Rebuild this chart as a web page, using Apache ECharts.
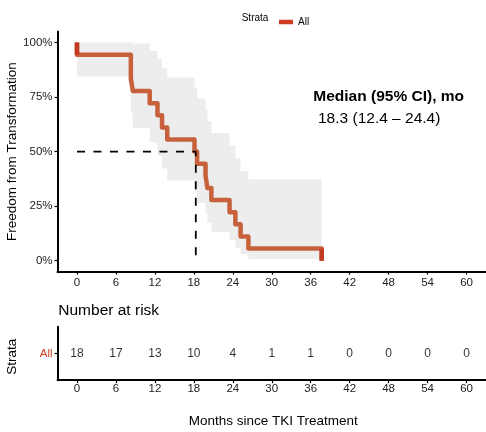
<!DOCTYPE html>
<html><head><meta charset="utf-8">
<script src="https://cdn.jsdelivr.net/npm/echarts@6/dist/echarts.min.js"></script>
<style>html,body{margin:0;padding:0;background:#fff}#c{width:486px;height:432px}</style>
</head><body><div id="c"></div>
<script>
// Kaplan-Meier step data
const eventTimes = [0, 8.3, 8.6, 11.2, 12.4, 13.1, 13.9, 18.1, 18.5, 19.8, 20.1, 20.7, 23.5, 24.4, 25.2, 26.4, 37.7];
const survival   = [0.944, 0.833, 0.778, 0.722, 0.667, 0.611, 0.556, 0.500, 0.444, 0.389, 0.333, 0.278, 0.222, 0.167, 0.111, 0.056, 0.000];
const ciUpper    = [1.000, 1.000, 0.996, 0.962, 0.924, 0.884, 0.840, 0.794, 0.745, 0.694, 0.640, 0.585, 0.528, 0.468, 0.411, 0.373];
const ciLower    = [0.844, 0.678, 0.608, 0.542, 0.481, 0.423, 0.368, 0.315, 0.265, 0.218, 0.174, 0.132, 0.094, 0.059, 0.030, 0.008];
const medianTime = 18.3;
const medianSurv = 0.5;
const xTicks = [0, 6, 12, 18, 24, 30, 36, 42, 48, 54, 60];
const yTicks = [0, 0.25, 0.5, 0.75, 1];
const yTickLabels = ['0%', '25%', '50%', '75%', '100%'];
const strata = ['All'];
const riskTimes  = [0, 6, 12, 18, 24, 30, 36, 42, 48, 54, 60];
const riskCounts = [18, 17, 13, 10, 4, 1, 1, 0, 0, 0, 0];

const FONT = "'Liberation Sans', Arial, Helvetica, sans-serif";
const CURVE = '#C6613C';
const RED = '#CF3A20';
const DARK = '#C23A22';
const LABEL = '#222';

const kmData = [[0, 1]].concat(eventTimes.map((t, i) => [t, survival[i]]));
const bandPts = [];
for (let i = 0; i < ciUpper.length; i++) {
  bandPts.push([eventTimes[i], ciUpper[i]], [eventTimes[i + 1], ciUpper[i]]);
}
for (let i = ciLower.length - 1; i >= 0; i--) {
  bandPts.push([eventTimes[i + 1], ciLower[i]], [eventTimes[i], ciLower[i]]);
}
const n = eventTimes.length;
const endsData = [
  [eventTimes[0], 1], [eventTimes[0], survival[0]], null,
  [eventTimes[n - 1], survival[n - 2]], [eventTimes[n - 1], survival[n - 1]]
];

const axisLineStyle = { show: true, onZero: false, lineStyle: { color: '#000', width: 2 } };
const chart = echarts.init(document.getElementById('c'), null, { renderer: 'canvas' });
chart.setOption({
  animation: false,
  textStyle: { fontFamily: FONT },
  grid: [
    { left: 57.5, top: 31.6, width: 431, height: 240 },
    { left: 57.5, top: 326.7, width: 431, height: 53.5 }
  ],
  legend: {
    left: 274, top: 12, itemWidth: 14, itemHeight: 4.5, itemGap: 6,
    textStyle: { fontSize: 10, color: '#000', fontFamily: FONT },
    data: [{ name: 'All', icon: 'rect', itemStyle: { color: RED } }]
  },
  xAxis: [
    { type: 'value', gridIndex: 0, min: -3, max: 63,
      axisLine: axisLineStyle, splitLine: { show: false },
      axisTick: { show: true, length: 3, customValues: xTicks, lineStyle: { color: '#000', width: 1.2 } },
      axisLabel: { customValues: xTicks, margin: 5, fontSize: 11.5, color: LABEL, fontFamily: FONT } },
    { type: 'value', gridIndex: 1, min: -3, max: 63,
      axisLine: axisLineStyle, splitLine: { show: false },
      axisTick: { show: true, length: 3, customValues: xTicks, lineStyle: { color: '#000', width: 1.2 } },
      axisLabel: { customValues: xTicks, margin: 3, fontSize: 11.5, color: LABEL, fontFamily: FONT } }
  ],
  yAxis: [
    { type: 'value', gridIndex: 0, min: -0.05, max: 1.05,
      axisLine: axisLineStyle, splitLine: { show: false },
      axisTick: { show: true, length: 3, customValues: yTicks, lineStyle: { color: '#000', width: 1.2 } },
      axisLabel: { customValues: yTicks, margin: 5, fontSize: 11.5, color: LABEL, fontFamily: FONT,
        formatter: v => yTickLabels[yTicks.indexOf(v)] !== undefined ? yTickLabels[yTicks.indexOf(v)] : Math.round(v * 100) + '%' } },
    { type: 'category', gridIndex: 1, data: strata,
      axisLine: axisLineStyle, splitLine: { show: false },
      axisTick: { show: true, length: 3, alignWithLabel: true, lineStyle: { color: '#000', width: 1.2 } },
      axisLabel: { margin: 5, fontSize: 11.5, color: RED, fontFamily: FONT } }
  ],
  series: [
    { type: 'custom', name: 'ci', xAxisIndex: 0, yAxisIndex: 0, silent: true, z: 1,
      data: [[0, 0]],
      renderItem: (params, api) => ({
        type: 'polygon',
        shape: { points: bandPts.map(d => api.coord(d)) },
        style: { fill: '#EDEDED' }
      }) },
    { type: 'line', name: 'All', xAxisIndex: 0, yAxisIndex: 0, step: 'end', data: kmData,
      showSymbol: false, symbol: 'none', z: 3,
      lineStyle: { color: CURVE, width: 4.5, join: 'round', cap: 'butt' },
      itemStyle: { color: CURVE } },
    { type: 'line', name: 'ends', xAxisIndex: 0, yAxisIndex: 0, data: endsData, connectNulls: false,
      showSymbol: false, symbol: 'none', z: 4,
      lineStyle: { color: DARK, width: 4.5, cap: 'butt' } },
    { type: 'line', name: 'median', xAxisIndex: 0, yAxisIndex: 0,
      data: [[0, medianSurv], [medianTime, medianSurv], [medianTime, 0]],
      showSymbol: false, symbol: 'none', z: 5,
      lineStyle: { color: '#000', width: 1.8, type: [8, 8.5] } },
    { type: 'scatter', name: 'risk', xAxisIndex: 1, yAxisIndex: 1,
      data: riskTimes.map((t, i) => [t, strata[0], riskCounts[i]]),
      symbol: 'rect', symbolSize: 1, itemStyle: { color: 'rgba(0,0,0,0)' },
      label: { show: true, position: 'inside', formatter: p => String(p.value[2]),
        fontSize: 12, color: '#000', fontFamily: FONT } }
  ],
  graphic: [
    { type: 'text', x: 241.7, y: 18.3, style: { text: 'Strata', fontSize: 10, fill: '#000', fontFamily: FONT, textVerticalAlign: 'middle' } },
    { type: 'text', x: 12, y: 151.6, rotation: Math.PI / 2,
      style: { text: 'Freedom from Transformation', fontSize: 13.5, fill: '#000', fontFamily: FONT, textAlign: 'center', textVerticalAlign: 'middle' } },
    { type: 'text', x: 313.3, y: 96.7,
      style: { text: 'Median (95% CI), mo', fontSize: 15.5, fontWeight: 'bold', fill: '#000', fontFamily: FONT, textVerticalAlign: 'middle' } },
    { type: 'text', x: 318, y: 118.3,
      style: { text: '18.3 (12.4 \u2013 24.4)', fontSize: 15.5, fill: '#000', fontFamily: FONT, textVerticalAlign: 'middle' } },
    { type: 'text', x: 58.3, y: 310.7,
      style: { text: 'Number at risk', fontSize: 15.5, fill: '#000', fontFamily: FONT, textVerticalAlign: 'middle' } },
    { type: 'text', x: 12.5, y: 356.7, rotation: Math.PI / 2,
      style: { text: 'Strata', fontSize: 13.5, fill: '#000', fontFamily: FONT, textAlign: 'center', textVerticalAlign: 'middle' } },
    { type: 'text', x: 273.3, y: 421.7,
      style: { text: 'Months since TKI Treatment', fontSize: 13.5, fill: '#000', fontFamily: FONT, textAlign: 'center', textVerticalAlign: 'middle' } }
  ]
});
</script>
</body></html>
